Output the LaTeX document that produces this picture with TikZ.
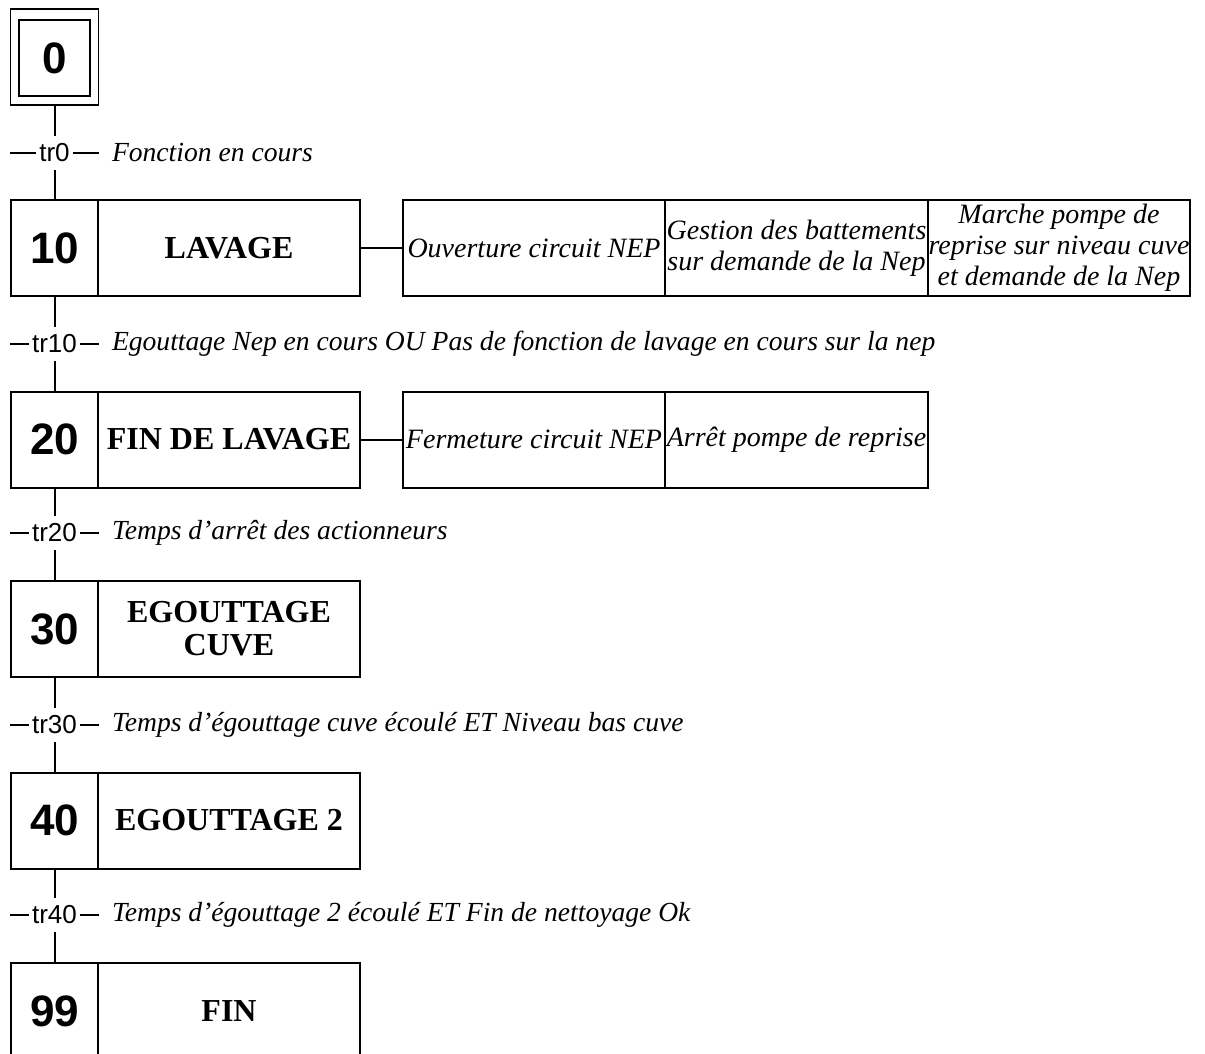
\documentclass[tikz,border=0pt]{standalone}
\usepackage{fontspec}
\setmainfont{Liberation Serif}
\newfontfamily\arialfont{Liberation Sans}
\usetikzlibrary{positioning}

\begin{document}
\begin{tikzpicture}[x=0.5pt, y=-0.5pt, line width=1pt,
  num/.style={rectangle, draw, minimum width=43.5pt, minimum height=48pt, inner sep=0pt, outer sep=0pt, font=\arialfont\bfseries\fontsize{22}{22}\selectfont},
  initframe/.style={rectangle, draw, line width=0.7pt, minimum width=44pt, minimum height=48pt, inner sep=0pt, outer sep=0pt},
  init/.style={line width=0.7pt, minimum width=35.5pt, minimum height=38pt},
  stepname/.style={rectangle, draw, minimum width=131pt, minimum height=48pt, inner sep=0pt, outer sep=0pt, align=center, font=\bfseries\fontsize{16}{16.5}\selectfont},
  action/.style={rectangle, draw, minimum width=131pt, minimum height=48pt, inner sep=0pt, outer sep=0pt, align=center, font=\itshape\fontsize{14}{15.5}\selectfont},
  trlabel/.style={inner xsep=1pt, inner ysep=0pt, minimum height=16pt, font=\arialfont\fontsize{13}{13}\selectfont},
  cond/.style={anchor=west, inner sep=0pt, font=\itshape\fontsize{13.8}{14}\selectfont}
]
\useasboundingbox (0,0) rectangle (1205,1054);
\clip (0,0) rectangle (1205,1054);

% initial step
\node[initframe] (s0frame) at (54.5,57) {};
\node[num, init] (s0) at (54.5,58) {0};

% steps
\node[num] (s10) at (54.5,248) {10};
\node[stepname, right=0pt of s10] (n10) {LAVAGE};
\node[num] (s20) at (54.5,439.5) {20};
\node[stepname, right=0pt of s20] (n20) {FIN DE LAVAGE};
\node[num] (s30) at (54.5,629) {30};
\node[stepname, right=0pt of s30] (n30) {EGOUTTAGE\\CUVE};
\node[num] (s40) at (54.5,820.5) {40};
\node[stepname, right=0pt of s40] (n40) {EGOUTTAGE 2};
\node[num] (s99) at (54.5,1011) {99};
\node[stepname, right=0pt of s99] (n99) {FIN};

% actions
\node[action, right=21.5pt of n10] (a10a) {Ouverture circuit NEP};
\node[action, right=0pt of a10a, minimum width=131.5pt] (a10b) {Gestion des battements\\sur demande de la Nep};
\node[action, right=0pt of a10b] (a10c) {Marche pompe de\\reprise sur niveau cuve\\et demande de la Nep};
\node[action, right=21.5pt of n20] (a20a) {Fermeture circuit NEP};
\node[action, right=0pt of a20a, minimum width=131.5pt] (a20b) {Arrêt pompe de reprise};
\draw (n10) -- (a10a);
\draw (n20) -- (a20a);

% transitions
\foreach \t/\y/\prev/\next/\txt in {
  0/153/s0frame/s10/{Fonction en cours},
  10/344/s10/s20/{Egouttage Nep en cours OU Pas de fonction de lavage en cours sur la nep},
  20/533/s20/s30/{Temps d’arrêt des actionneurs},
  30/725/s30/s40/{Temps d’égouttage cuve écoulé ET Niveau bas cuve},
  40/915/s40/s99/{Temps d’égouttage 2 écoulé ET Fin de nettoyage Ok}} {
  \node[trlabel] (tr\t) at (54.5,\y) {tr\t};
  \coordinate (trl\t) at (10,\y);
  \coordinate (trr\t) at (99,\y);
  \draw (trl\t) -- (tr\t.west) (tr\t.east) -- (trr\t);
  \draw (\prev) -- (tr\t) (tr\t) -- (\next);
  \node[cond] (c\t) at (111,\y) {\txt};
}
\end{tikzpicture}
\end{document}
